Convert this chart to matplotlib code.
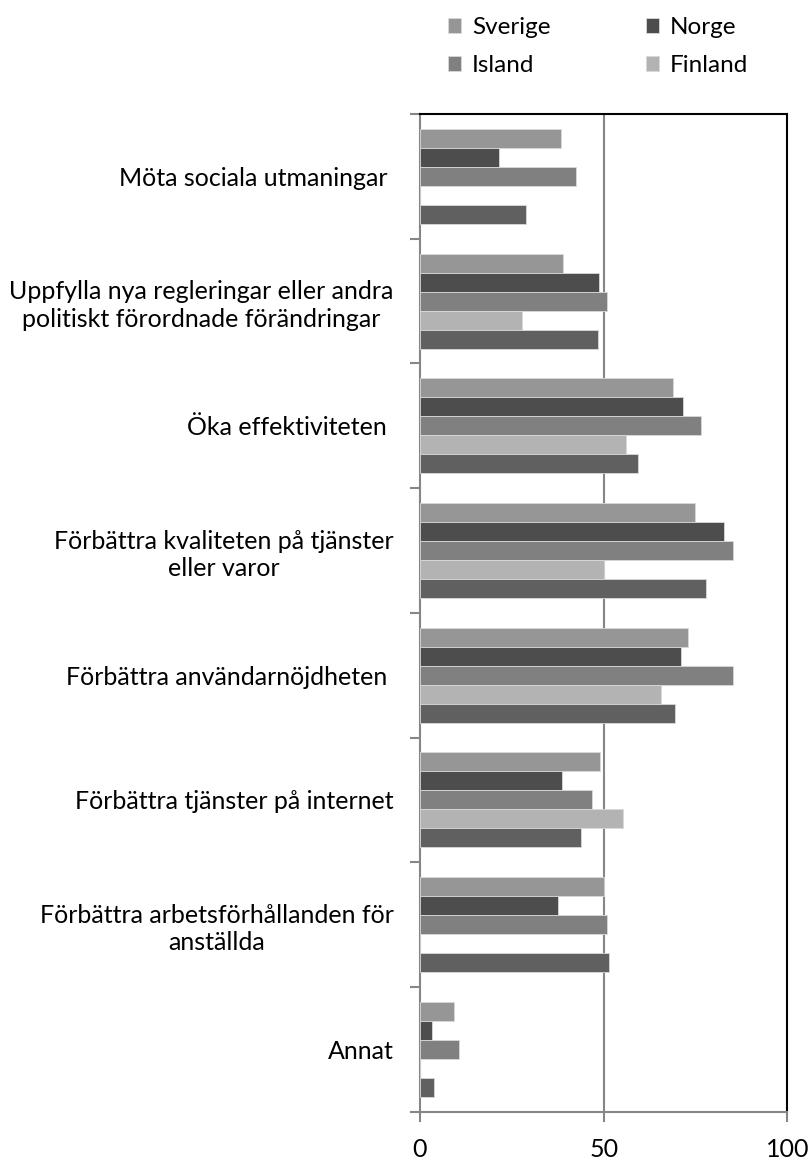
import numpy as np
import matplotlib.pyplot as plt

plt.rcParams['font.family'] = ['Lato', 'DejaVu Sans']

categories = ['Möta sociala utmaningar ',
              'Uppfylla nya regleringar eller andra\npolitiskt förordnade förändringar',
              'Öka effektiviteten ',
              'Förbättra kvaliteten på tjänster\neller varor',
              'Förbättra användarnöjdheten ',
              'Förbättra tjänster på internet',
              'Förbättra arbetsförhållanden för\nanställda',
              'Annat']

series_names = ['Sverige', 'Norge', 'Island', 'Finland', 'Danmark']
sverige = [38.3, 39.0, 68.9, 74.8, 72.8, 49.0, 50.2, 9.2]
norge = [21.6, 48.8, 71.5, 82.7, 71.0, 38.6, 37.6, 3.3]
island = [42.5, 51.0, 76.6, 85.1, 85.1, 46.9, 51.0, 10.6]
finland = [0, 27.8, 56.1, 50.1, 65.5, 55.3, 0, 0]
danmark = [28.8, 48.4, 59.4, 77.8, 69.5, 43.8, 51.5, 3.8]

values = [sverige, norge, island, finland, danmark]
colors = ['#969696', '#4d4d4d', '#808080', '#b3b3b3', '#606060']

fig = plt.figure(figsize=(8.1, 11.6), dpi=100)
ax = fig.add_axes([0.5185, 0.0416, 0.4537, 0.8601])

y = np.arange(len(categories))
h = 0.1524
bars = []
for j, vals in enumerate(values):
    b = ax.barh(y + (j - 2) * h, vals, height=h, color=colors[j],
                edgecolor='#d9d9d9', linewidth=0.6, zorder=3)
    bars.append(b)

ax.set_xlim(0, 100)
ax.set_ylim(len(categories) - 0.5, -0.5)
ax.set_xticks([0, 50, 100])
ax.set_xticklabels(['0', '50', '100'], fontsize=18)
ax.set_yticks(y)
ax.set_yticklabels(categories, fontsize=18, multialignment='center',
                   linespacing=1.25)
ax.set_yticks(np.arange(-0.5, len(categories), 1), minor=True)
ax.tick_params(axis='y', which='major', length=0, pad=19)
ax.tick_params(axis='y', which='minor', length=7, width=1.5, color='#868686')
ax.tick_params(axis='x', length=7, width=1.5, color='#868686', pad=12)

ax.axvline(50, color='#868686', linewidth=1.5, zorder=2)
for s in ['left', 'bottom']:
    ax.spines[s].set_color('#868686')
    ax.spines[s].set_linewidth(1.5)
for s in ['top', 'right']:
    ax.spines[s].set_color('black')
    ax.spines[s].set_linewidth(1.5)

order = [0, 2, 1, 3]
fig.legend([bars[i] for i in order], [series_names[i] for i in order],
           ncol=2, loc='upper left', bbox_to_anchor=(0.538, 0.996),
           borderaxespad=0.1,
           frameon=False, fontsize=17.5, handlelength=0.55, handleheight=0.55,
           handletextpad=0.45, columnspacing=3.9, labelspacing=0.72)

fig.savefig('out.png', dpi=100)
